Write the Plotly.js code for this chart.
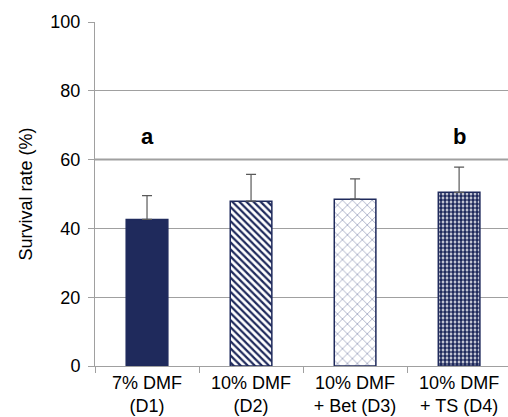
<!DOCTYPE html>
<html>
<head>
<meta charset="utf-8">
<script src="https://cdn.plot.ly/plotly-3.0.1.min.js"></script>
<style>html,body{margin:0;padding:0;background:#fff;}#chart{width:508px;height:417px;}</style>
</head>
<body>
<div id="chart"></div>
<script>
const categories = ["7% DMF<br>(D1)", "10% DMF<br>(D2)", "10% DMF<br>+ Bet (D3)", "10% DMF<br>+ TS (D4)"];
const survival = [42.6, 47.9, 48.5, 50.5];
const errUp = [6.9, 7.8, 5.9, 7.3];
const letterCats = [categories[0], categories[3]];
const letterLabels = ["a", "b"];
const letterY = [66.6, 66.6];
const refLineY = 60;

const navy = "#1f2a5c";
const shapes = ["", "\\", "x", "."];
const fg = [navy, navy, "#6f78a0", navy];
const sizes = [8, 5, 7, 4];
const solid = [0.5, 0.45, 0.15, 0.7];
const fills = [navy, "#ffffff", "#ffffff", "#ffffff"];

const traces = categories.map((c, i) => ({
  type: "bar",
  x: [c],
  y: [survival[i]],
  width: 0.4,
  marker: {
    color: fills[i],
    line: {color: navy, width: 1.5},
    pattern: {shape: shapes[i], fgcolor: fg[i], fgopacity: 1, size: sizes[i], solidity: solid[i], fillmode: "overlay"}
  },
  error_y: {type: "data", symmetric: false, array: [errUp[i]], arrayminus: [0], color: "#595959", thickness: 1.2, width: 5},
  hoverinfo: "none"
}));

const layout = {
  width: 508, height: 417,
  margin: {l: 95, r: 0, t: 22, b: 51},
  paper_bgcolor: "#ffffff", plot_bgcolor: "#ffffff",
  showlegend: false,
  barmode: "overlay",
  font: {family: "Liberation Sans, Arial, sans-serif", color: "#000"},
  xaxis: {
    type: "category",
    categoryorder: "array", categoryarray: categories,
    range: [-0.5, 3.47],
    showline: true, linecolor: "#a0a0a0", linewidth: 1,
    ticks: "outside", tickson: "boundaries", ticklen: 6, tickcolor: "#a0a0a0",
    tickfont: {size: 18, color: "#000"},
    showgrid: false, zeroline: false
  },
  yaxis: {
    range: [0, 100],
    tickvals: [0, 20, 40, 60, 80, 100],
    showline: true, linecolor: "#a0a0a0", linewidth: 1,
    ticks: "outside", ticklen: 6, tickcolor: "#a0a0a0",
    ticklabelstandoff: 4,
    tickfont: {size: 18, color: "#000"},
    showgrid: true, gridcolor: "#a0a0a0", gridwidth: 1,
    zeroline: false,
    title: {text: "Survival rate (%)", font: {size: 18, color: "#000"}, standoff: 13}
  },
  shapes: [{type: "line", xref: "paper", x0: 0, x1: 1, yref: "y", y0: refLineY, y1: refLineY, line: {color: "#a0a0a0", width: 2}, layer: "below"}],
  annotations: letterLabels.map((t, i) => ({
    x: letterCats[i], y: letterY[i], xref: "x", yref: "y", text: "<b>" + t + "</b>",
    showarrow: false, font: {size: 22, color: "#000"}, yanchor: "middle"
  }))
};

Plotly.newPlot("chart", traces, layout, {staticPlot: true, displayModeBar: false});
</script>
</body>
</html>
